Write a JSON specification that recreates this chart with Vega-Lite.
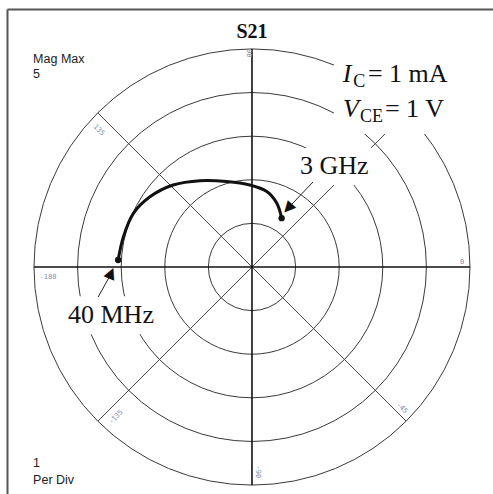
{
  "$schema": "https://vega.github.io/schema/vega-lite/v6.json",
  "width": 486,
  "height": 485,
  "autosize": {"type": "none"},
  "padding": {"left": 7, "top": 9, "right": 0, "bottom": 0},
  "background": "white",
  "config": {"view": {"stroke": null}},
  "encoding": {
    "x": {
      "field": "x", "type": "quantitative",
      "scale": {"domain": [-5.619, 5.528], "nice": false, "zero": false},
      "axis": {"orient": "top", "title": null, "labels": false, "ticks": false, "grid": false, "domainColor": "#555", "domainWidth": 2}
    },
    "y": {
      "field": "y", "type": "quantitative",
      "scale": {"domain": [-5.206, 5.917], "nice": false, "zero": false},
      "axis": {"orient": "left", "title": null, "labels": false, "ticks": false, "grid": false, "domainColor": "#555", "domainWidth": 2}
    }
  },
  "layer": [
    {
      "data": {"values": [
        {"r": 1, "x": 0, "y": 0}, {"r": 2, "x": 0, "y": 0}, {"r": 3, "x": 0, "y": 0},
        {"r": 4, "x": 0, "y": 0}, {"r": 5, "x": 0, "y": 0}
      ]},
      "mark": {"type": "point", "shape": "circle", "filled": false, "stroke": "#3a3a3a", "strokeWidth": 1, "opacity": 1},
      "encoding": {
        "size": {"field": "r", "type": "quantitative", "legend": null,
          "scale": {"type": "pow", "exponent": 2, "domain": [0, 5], "range": [0, 190096]}}
      }
    },
    {
      "data": {"values": [
        {"phase": 45, "x": 0, "y": 0, "x2": 3.5355, "y2": 3.5355},
        {"phase": 135, "x": 0, "y": 0, "x2": -3.5355, "y2": 3.5355},
        {"phase": -135, "x": 0, "y": 0, "x2": -3.5355, "y2": -3.5355},
        {"phase": -45, "x": 0, "y": 0, "x2": 3.5355, "y2": -3.5355}
      ]},
      "mark": {"type": "rule", "stroke": "#444", "strokeWidth": 1},
      "encoding": {"x2": {"field": "x2"}, "y2": {"field": "y2"}}
    },
    {
      "data": {"values": [
        {"phase": 0, "x": -5, "y": 0, "x2": 5, "y2": 0},
        {"phase": 90, "x": 0, "y": 5, "x2": 0, "y2": -5}
      ]},
      "mark": {"type": "rule", "stroke": "#111", "strokeWidth": 1.6},
      "encoding": {"x2": {"field": "x2"}, "y2": {"field": "y2"}}
    },
    {
      "data": {"values": [
        {"label": "bias", "x": 1.88, "y": 4.79, "x2": 5.0, "y2": 3.05},
        {"label": "3 GHz", "x": 1.01, "y": 2.73, "x2": 2.84, "y2": 1.88},
        {"label": "40 MHz", "x": -4.36, "y": -0.67, "x2": -1.93, "y2": -1.54}
      ]},
      "mark": {"type": "rect", "fill": "white", "stroke": null},
      "encoding": {"x2": {"field": "x2"}, "y2": {"field": "y2"}}
    },
    {
      "data": {"values": [
        {"i": 1, "x": -3.07, "y": 0.16},
        {"i": 2, "x": -2.95, "y": 0.69},
        {"i": 3, "x": -2.72, "y": 1.23},
        {"i": 4, "x": -2.34, "y": 1.61},
        {"i": 5, "x": -1.81, "y": 1.88},
        {"i": 6, "x": -1.19, "y": 1.98},
        {"i": 7, "x": -0.58, "y": 1.96},
        {"i": 8, "x": -0.05, "y": 1.88},
        {"i": 9, "x": 0.34, "y": 1.73},
        {"i": 10, "x": 0.57, "y": 1.46},
        {"i": 11, "x": 0.68, "y": 1.12}
      ]},
      "mark": {"type": "line", "stroke": "#111", "strokeWidth": 3, "interpolate": "catmull-rom"},
      "encoding": {"order": {"field": "i", "type": "quantitative"}}
    },
    {
      "data": {"values": [
        {"freq": "40 MHz", "x": -3.07, "y": 0.16},
        {"freq": "3 GHz", "x": 0.68, "y": 1.12}
      ]},
      "mark": {"type": "point", "shape": "circle", "filled": true, "fill": "#111", "size": 40, "opacity": 1}
    },
    {
      "data": {"values": [
        {"freq": "3 GHz", "x": 1.40, "y": 1.95, "x2": 0.83, "y2": 1.35},
        {"freq": "40 MHz", "x": -3.53, "y": -0.69, "x2": -3.20, "y2": -0.10}
      ]},
      "mark": {"type": "rule", "stroke": "#222", "strokeWidth": 1},
      "encoding": {"x2": {"field": "x2"}, "y2": {"field": "y2"}}
    },
    {
      "data": {"values": [{"freq": "3 GHz", "head": "▲", "x": 0.81, "y": 1.33}]},
      "mark": {"type": "text", "font": "DejaVu Sans", "fontSize": 15, "align": "center", "baseline": "middle", "angle": 222, "color": "#111"},
      "encoding": {"text": {"field": "head"}}
    },
    {
      "data": {"values": [{"freq": "40 MHz", "head": "▲", "x": -3.22, "y": -0.12}]},
      "mark": {"type": "text", "font": "DejaVu Sans", "fontSize": 15, "align": "center", "baseline": "middle", "angle": 23, "color": "#111"},
      "encoding": {"text": {"field": "head"}}
    },
    {
      "data": {"values": [{"text": "S21", "x": 0, "y": 5.25}]},
      "mark": {"type": "text", "font": "Liberation Serif", "fontWeight": "bold", "fontSize": 20, "align": "center", "baseline": "alphabetic", "color": "#111"},
      "encoding": {"text": {"field": "text"}}
    },
    {
      "data": {"values": [
        {"text": "Mag Max", "x": -5.02, "y": 4.69},
        {"text": "5", "x": -5.02, "y": 4.33},
        {"text": "1", "x": -5.02, "y": -4.59},
        {"text": "Per Div", "x": -5.02, "y": -4.98}
      ]},
      "mark": {"type": "text", "font": "Liberation Sans", "fontSize": 12.5, "align": "left", "baseline": "alphabetic", "color": "#222"},
      "encoding": {"text": {"field": "text"}}
    },
    {
      "data": {"values": [
        {"text": "I", "x": 2.08, "y": 4.24},
        {"text": "V", "x": 2.09, "y": 3.44}
      ]},
      "mark": {"type": "text", "font": "Liberation Serif", "fontStyle": "italic", "fontSize": 26, "align": "left", "baseline": "alphabetic", "color": "#111"},
      "encoding": {"text": {"field": "text"}}
    },
    {
      "data": {"values": [
        {"text": "C", "x": 2.32, "y": 4.12},
        {"text": "CE", "x": 2.48, "y": 3.32}
      ]},
      "mark": {"type": "text", "font": "Liberation Serif", "fontSize": 18, "align": "left", "baseline": "alphabetic", "color": "#111"},
      "encoding": {"text": {"field": "text"}}
    },
    {
      "data": {"values": [
        {"text": "= 1 mA", "x": 2.66, "y": 4.24},
        {"text": "= 1 V", "x": 3.05, "y": 3.44},
        {"text": "3 GHz", "x": 1.10, "y": 2.13},
        {"text": "40 MHz", "x": -4.22, "y": -1.28}
      ]},
      "mark": {"type": "text", "font": "Liberation Serif", "fontSize": 26, "align": "left", "baseline": "alphabetic", "color": "#111"},
      "encoding": {"text": {"field": "text"}}
    },
    {
      "data": {"values": [
        {"text": "-180", "x": -4.68, "y": -0.23},
        {"text": "0", "x": 4.82, "y": 0.11}
      ]},
      "mark": {"type": "text", "font": "DejaVu Sans Mono", "fontSize": 7, "align": "center", "baseline": "middle", "color": "#7d8db0"},
      "encoding": {"text": {"field": "text"}}
    },
    {
      "data": {"values": [
        {"text": "90", "x": -0.06, "y": 4.90},
        {"text": "-90", "x": 0.14, "y": -4.70}
      ]},
      "mark": {"type": "text", "font": "DejaVu Sans Mono", "fontSize": 7, "align": "center", "baseline": "middle", "angle": 90, "color": "#7d8db0"},
      "encoding": {"text": {"field": "text"}}
    },
    {
      "data": {"values": [
        {"text": "135", "x": -3.51, "y": 3.14},
        {"text": "-45", "x": 3.44, "y": -3.23}
      ]},
      "mark": {"type": "text", "font": "DejaVu Sans Mono", "fontSize": 7, "align": "center", "baseline": "middle", "angle": 45, "color": "#7d8db0"},
      "encoding": {"text": {"field": "text"}}
    },
    {
      "data": {"values": [
        {"text": "-135", "x": -3.12, "y": -3.44}
      ]},
      "mark": {"type": "text", "font": "DejaVu Sans Mono", "fontSize": 7, "align": "center", "baseline": "middle", "angle": -45, "color": "#7d8db0"},
      "encoding": {"text": {"field": "text"}}
    }
  ]
}
